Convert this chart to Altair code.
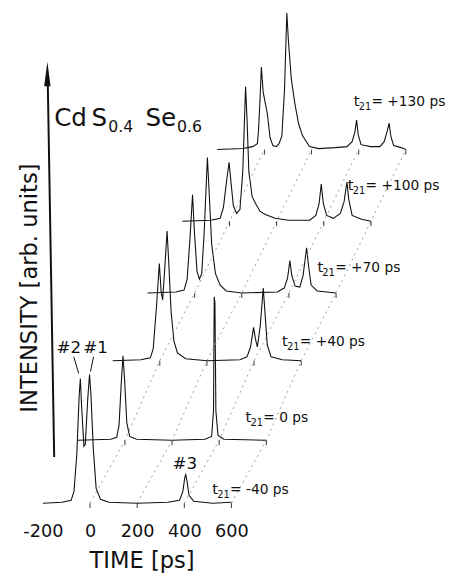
import altair as alt
import pandas as pd

# ---------------- data ----------------
# delay of pulse #2 with respect to pulse #1 (one trace each)
t21_labels = ["-40", "0", "+40", "+70", "+100", "+130"]

# each trace: (time in ps, intensity in arb. units above its own baseline)
trace_m40 = [(-200, 0), (-120, 1), (-80, 3), (-68, 12), (-56, 50), (-46, 110), (-41, 127), (-36, 100),
             (-26, 58), (-20, 60), (-10, 105), (-2, 131), (4, 110), (14, 55), (26, 15), (44, 4), (80, 1),
             (200, 0), (330, 1), (380, 3), (394, 12), (402, 26), (406, 29), (412, 22), (420, 8), (440, 2),
             (520, 0), (600, 1)]
trace_0 = [(-200, 0), (-60, 1), (-35, 3), (-25, 15), (-15, 60), (-8, 86), (-1, 60), (8, 18), (20, 4),
           (50, 1), (200, 0), (340, 1), (368, 4), (376, 30), (379, 146), (382, 140), (386, 30), (395, 5),
           (420, 1), (600, 0)]
trace_p40 = [(-200, 0), (-80, 1), (-40, 3), (-28, 12), (-14, 55), (-2, 99), (6, 70), (12, 62), (20, 90),
             (31, 132), (38, 100), (48, 50), (60, 20), (75, 8), (110, 2), (200, 0), (340, 1), (370, 4),
             (385, 14), (398, 34), (406, 22), (414, 14), (426, 35), (439, 74), (446, 50), (456, 16),
             (472, 4), (520, 1), (600, 0)]
trace_p70 = [(-200, 0), (-80, 1), (-45, 3), (-32, 14), (-20, 55), (-9, 100), (-1, 62), (10, 22), (20, 14),
             (30, 20), (40, 60), (54, 138), (61, 105), (72, 50), (88, 20), (108, 8), (134, 2), (200, 0),
             (350, 1), (380, 5), (394, 15), (404, 33), (412, 18), (426, 7), (446, 6), (460, 18), (475, 46),
             (483, 28), (494, 8), (520, 2), (600, 0)]
trace_p100 = [(-200, 0), (-80, 1), (-40, 3), (-26, 14), (-12, 42), (-2, 60), (6, 40), (16, 16), (30, 8),
              (44, 12), (56, 50), (68, 137), (74, 105), (82, 50), (96, 25), (110, 18), (130, 10), (152, 7),
              (193, 3), (250, 1), (340, 1), (366, 6), (380, 18), (389, 38), (398, 18), (412, 6), (440, 3),
              (470, 8), (486, 20), (498, 40), (506, 22), (520, 6), (560, 2), (600, 0)]
trace_p130 = [(-200, 0), (-90, 1), (-50, 3), (-30, 6), (-25, 20), (-18, 55), (-13, 84), (-5, 58), (12, 37),
              (24, 12), (36, 4), (50, 3), (62, 6), (74, 14), (85, 60), (95, 139), (102, 110), (114, 72),
              (129, 47), (145, 26), (162, 14), (191, 3), (230, 1), (300, 2), (350, 3), (372, 8), (384, 18),
              (391, 30), (398, 15), (410, 5), (450, 3), (490, 3), (508, 8), (520, 18), (529, 27), (536, 14),
              (548, 4), (580, 2), (600, 0)]
traces = [trace_m40, trace_0, trace_p40, trace_p70, trace_p100, trace_p130]

x_ticks = [-200, 0, 200, 400, 600]          # time axis tick labels
grid_times = [0, 200, 400, 600]             # marks on every baseline

# ---------------- waterfall layout ----------------
shift_t = 148                                # ps per trace, to the right
shift_i = [0, 64, 145, 214, 287, 360]        # baseline lift of each trace

rows = []
for k, tr in enumerate(traces):
    for j, (t, i) in enumerate(tr):
        rows.append({"k": k, "j": j, "x": t + shift_t * k, "y": i + shift_i[k]})
df = pd.DataFrame(rows)

guide = pd.DataFrame([{"g": g, "k": k, "x": g + shift_t * k, "y": shift_i[k]}
                      for g in grid_times for k in range(len(traces))])
ticks = pd.DataFrame([{"x": g + shift_t * k, "y": shift_i[k], "y2": shift_i[k] - 5}
                      for g in grid_times for k in range(len(traces))])

lab_pos = [(519, 9), (512, 19), (519, 15), (521, 21), (502, 32), (379, 44)]
labels = pd.DataFrame([{"x": p[0] + shift_t * k, "y": p[1] + shift_i[k],
                        "sub": "21", "rest": "= " + t21_labels[k] + " ps"}
                       for k, p in enumerate(lab_pos)])

FONT = "DejaVu Sans"
xs = alt.Scale(domain=[-348, 1494], nice=False, zero=False)
ys = alt.Scale(domain=[-10, 499], nice=False, zero=False)
x_axis = alt.Axis(values=x_ticks, labelExpr="'' + datum.value", domain=False, ticks=False,
                  tickSize=0, grid=False, labelFont=FONT, labelFontSize=18, labelPadding=10,
                  labelColor="#111", title="TIME [ps]", titleFont=FONT, titleFontSize=23,
                  titleFontWeight="normal", titleColor="#111", titleX=136, titleY=56,
                  titleAlign="center", titleBaseline="alphabetic")


def X(f="x"):
    return alt.X(f"{f}:Q", scale=xs, axis=x_axis)


def Y(f="y"):
    return alt.Y(f"{f}:Q", scale=ys, axis=None)


guides = alt.Chart(guide).mark_line(color="#9a9a9a", strokeWidth=1, strokeDash=[2, 4]).encode(
    x=X(), y=Y(), detail="g:N", order="k:Q")

tickmarks = alt.Chart(ticks).mark_rule(color="#333", strokeWidth=1).encode(
    x=X(), y=Y(), y2="y2:Q")

lines = alt.Chart(df).mark_line(color="#111", strokeWidth=1.1).encode(
    x=X(), y=Y(), detail="k:N", order="j:Q")

lab_t = alt.Chart(labels).mark_text(text="t", font=FONT, fontSize=15, align="left",
                                    baseline="alphabetic", color="#111").encode(x=X(), y=Y())
lab_sub = alt.Chart(labels).mark_text(font=FONT, fontSize=10, align="left", baseline="alphabetic",
                                      dx=5, dy=4, color="#111").encode(x=X(), y=Y(), text="sub:N")
lab_rest = alt.Chart(labels).mark_text(font=FONT, fontSize=14, align="left", baseline="alphabetic",
                                       dx=18, color="#111").encode(x=X(), y=Y(), text="rest:N")

# title CdS0.4Se0.6
title_df = pd.DataFrame([{"x": -152, "y": 384}])
title_parts = [("Cd", 0, 0, 25), ("S", 38, 0, 25), ("0.4", 55, 6, 16), ("Se", 93, 0, 25), ("0.6", 125, 6, 16)]
title_layers = [alt.Chart(title_df).mark_text(text=s, font=FONT, fontSize=fs, align="left",
                                              baseline="alphabetic", dx=dx, dy=dy, color="#111")
                .encode(x=X(), y=Y()) for s, dx, dy, fs in title_parts]

# intensity axis arrow
arrow_df = pd.DataFrame([{"x": -152, "y": 47, "x2": -179, "y2": 425}])
arrow = alt.Chart(arrow_df).mark_rule(color="#111", strokeWidth=2).encode(
    x=X(), y=Y(), x2="x2:Q", y2="y2:Q")
head_df = pd.DataFrame([{"x": -181, "y": 437}])
head = alt.Chart(head_df).mark_point(shape="M0,-1L0.26,1L-0.26,1Z", size=625, filled=True,
                                     color="#111", opacity=1).encode(x=X(), y=Y())

ylab_df = pd.DataFrame([{"x": -227, "y": 219, "text": "INTENSITY [arb. units]"}])
ylab = alt.Chart(ylab_df).mark_text(font=FONT, fontSize=23, angle=270, align="center",
                                    baseline="alphabetic", color="#111").encode(x=X(), y=Y(), text="text:N")

# pulse markers
pulse_df = pd.DataFrame([{"x": -90, "y": 153, "text": "#2"}, {"x": 23, "y": 153, "text": "#1"},
                         {"x": 402, "y": 35, "text": "#3"}])
pulses = alt.Chart(pulse_df).mark_text(font=FONT, fontSize=17, align="center", baseline="alphabetic",
                                       color="#111").encode(x=X(), y=Y(), text="text:N")
lead_df = pd.DataFrame([{"x": -69, "y": 149, "x2": -48, "y2": 132}, {"x": 15, "y": 149, "x2": 2, "y2": 134}])
leads = alt.Chart(lead_df).mark_rule(color="#111", strokeWidth=1).encode(
    x=X(), y=Y(), x2="x2:Q", y2="y2:Q")

chart = alt.layer(lines, guides, tickmarks, lab_t, lab_sub, lab_rest, *title_layers, arrow, head, ylab,
                  pulses, leads).properties(
    width=442, height=509, autosize=alt.AutoSizeParams(type="none"),
    padding={"left": 0, "top": 0, "right": 8, "bottom": 58}
).configure_view(stroke=None)

chart.save("out.html", embed_options={"renderer": "svg", "actions": False})
